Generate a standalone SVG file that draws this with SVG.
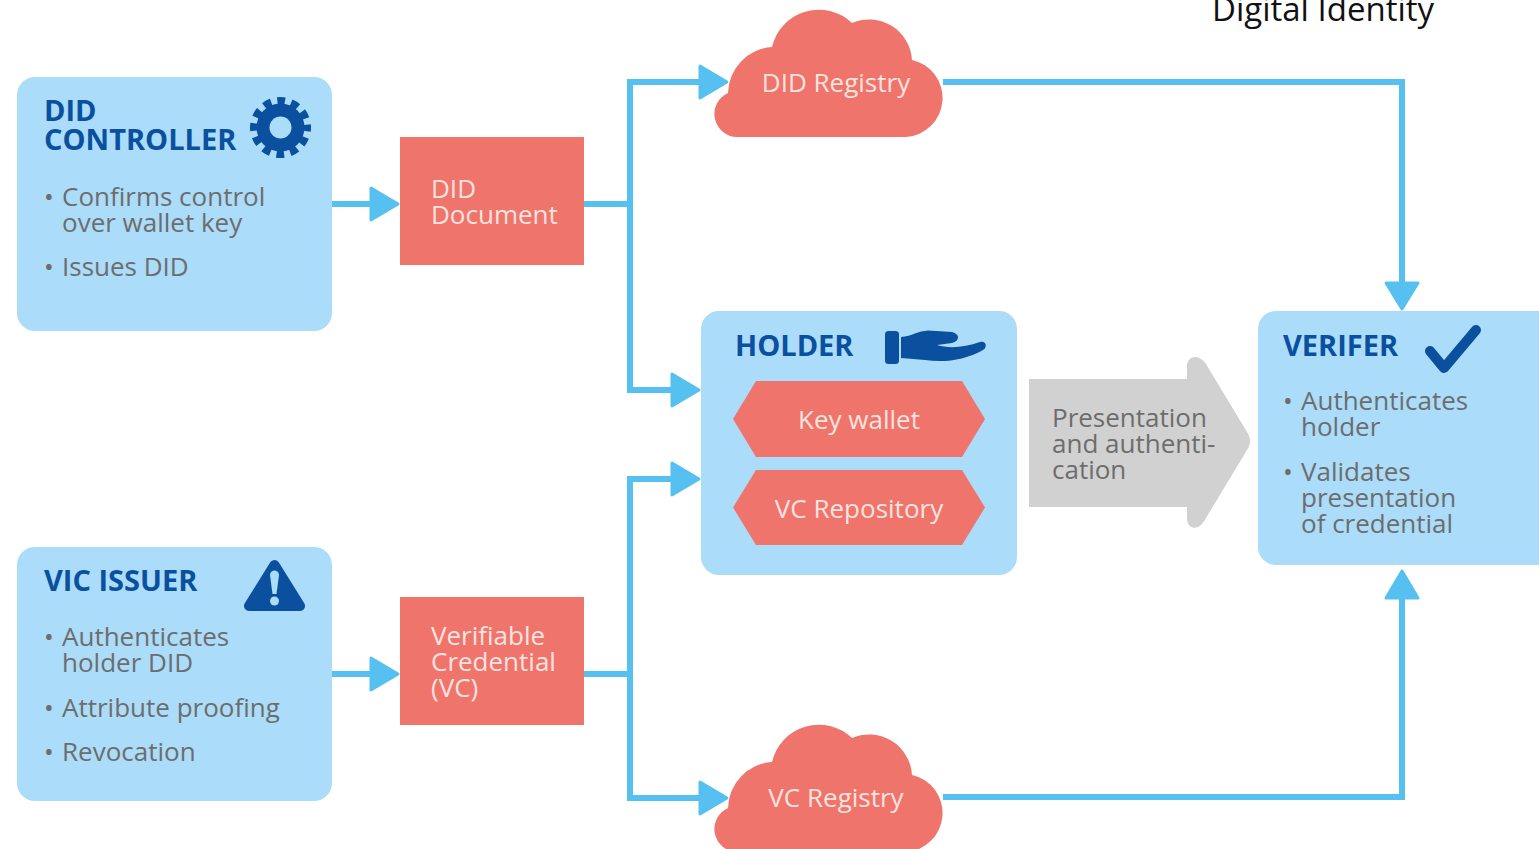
<svg xmlns="http://www.w3.org/2000/svg" width="1539" height="849" viewBox="0 0 1539 849">
<style>
text{font-family:"Open Sans","Noto Sans","Liberation Sans",sans-serif}
.box{fill:#abdcf9}
.red{fill:#ef756c}
.icon{fill:#0a509f}
.h{font-size:29px;font-weight:700;fill:#0a509f}
.b{font-size:26px;fill:#6d6d6d}
.w{font-size:26px;fill:#fde3df}
.m{text-anchor:middle}
.ln{fill:none;stroke:#56c1f0;stroke-width:6}
.ah{fill:#56c1f0;stroke:#56c1f0;stroke-width:3;stroke-linejoin:round}
</style>
<defs>
<path id="cloud" d="M737 137A23 23 0 0 1 728 93A47 47 0 0 1 772 47A48 48 0 0 1 852 23A43 43 0 0 1 912 60A39 39 0 0 1 906 137Z"/>
</defs>
<text id="title" x="1212" y="21" font-size="33" fill="#111" style="font-family:'Open Sans',sans-serif">Digital Identity</text>
<g id="connectors">
<path class="ln" d="M332 204H372"/>
<path class="ln" d="M584 204H630M700 82H630V390H672"/>
<path class="ln" d="M332 674H372"/>
<path class="ln" d="M584 674H630M672 479H630V798H700"/>
<path class="ln" d="M943 82H1402V284"/>
<path class="ln" d="M943 797H1402V598"/>
<polygon class="ah" points="371,188 398,204 371,220"/>
<polygon class="ah" points="371,658 398,674 371,690"/>
<polygon class="ah" points="700,66 727,82 700,98"/>
<polygon class="ah" points="672,374 699,390 672,406"/>
<polygon class="ah" points="672,463 699,479 672,495"/>
<polygon class="ah" points="700,782 727,798 700,814"/>
<polygon class="ah" points="1386,283 1418,283 1402,309"/>
<polygon class="ah" points="1386,598 1418,598 1402,571"/>
</g>
<g id="did-controller">
<rect class="box" x="17" y="77" width="315" height="254" rx="18"/>
<text class="h" x="44" y="121">DID</text>
<text class="h" x="44" y="150">CONTROLLER</text>
<circle class="icon" cx="280.500" cy="127.500" r="24"/>
<circle cx="280.500" cy="127.500" r="26" fill="none" stroke="#0a509f" stroke-width="9" stroke-dasharray="7.600 6" stroke-dashoffset="3.800"/>
<circle class="box" cx="280.500" cy="127.500" r="11"/>
<text class="b" x="44" y="206">•</text><text class="b" x="62" y="206">Confirms control</text>
<text class="b" x="62" y="232">over wallet key</text>
<text class="b" x="44" y="276">•</text><text class="b" x="62" y="276">Issues DID</text>
</g>
<g id="did-document">
<rect class="red" x="400" y="137" width="184" height="128"/>
<text class="w" x="431" y="198">DID</text>
<text class="w" x="431" y="224">Document</text>
</g>
<g id="did-registry">
<use href="#cloud" class="red"/>
<text class="w m" x="836" y="92">DID Registry</text>
</g>
<g id="holder">
<rect class="box" x="701" y="311" width="316" height="264" rx="18"/>
<text class="h" x="735" y="356">HOLDER</text>
<rect class="icon" x="885" y="331" width="14" height="33" rx="3.500"/>
<path class="icon" d="M901 337C912 336 918 331 928 330.500L952 332C960 334 960 341 952 343L937 345C950 349 965 347 980 342C986 340 988 347 983 350C965 360 945 363 925 360L901 358Z"/>
<polygon class="red" points="733,419 756,381 962,381 985,419 962,457 756,457"/>
<text class="w m" x="859" y="429">Key wallet</text>
<polygon class="red" points="733,507.500 756,470 962,470 985,507.500 962,545 756,545"/>
<text class="w m" x="859" y="518">VC Repository</text>
</g>
<g id="presentation">
<path fill="#d1d1d1" d="M1029 379H1187V366C1187 356 1199 353 1206 364L1247 432C1251 438 1251 444 1247 450L1206 518C1199 532 1187 530 1187 518V507H1029Z"/>
<text class="b" x="1052" y="427">Presentation</text>
<text class="b" x="1052" y="453">and authenti-</text>
<text class="b" x="1052" y="479">cation</text>
</g>
<g id="verifier">
<rect class="box" x="1258" y="311" width="300" height="254" rx="18"/>
<text class="h" x="1283" y="356">VERIFER</text>
<polyline points="1430,351 1444,368 1476,330" fill="none" stroke="#0a509f" stroke-width="10" stroke-linecap="round" stroke-linejoin="round"/>
<text class="b" x="1283" y="410">•</text><text class="b" x="1301" y="410">Authenticates</text>
<text class="b" x="1301" y="436">holder</text>
<text class="b" x="1283" y="481">•</text><text class="b" x="1301" y="481">Validates</text>
<text class="b" x="1301" y="507">presentation</text>
<text class="b" x="1301" y="533">of credential</text>
</g>
<g id="vic-issuer">
<rect class="box" x="17" y="547" width="315" height="254" rx="18"/>
<text class="h" x="44" y="591">VIC ISSUER</text>
<polygon class="icon" points="274.500,565 300,606 249,606" stroke="#0a509f" stroke-width="10" stroke-linejoin="round"/>
<path class="box" d="M270 575C270 569 279 569 279 575L276.500 594H272.500Z"/>
<circle class="box" cx="274.500" cy="601" r="4.500"/>
<text class="b" x="44" y="646">•</text><text class="b" x="62" y="646">Authenticates</text>
<text class="b" x="62" y="672">holder DID</text>
<text class="b" x="44" y="717">•</text><text class="b" x="62" y="717">Attribute proofing</text>
<text class="b" x="44" y="761">•</text><text class="b" x="62" y="761">Revocation</text>
</g>
<g id="verifiable-credential">
<rect class="red" x="400" y="597" width="184" height="128"/>
<text class="w" x="431" y="645">Verifiable</text>
<text class="w" x="431" y="671">Credential</text>
<text class="w" x="431" y="697">(VC)</text>
</g>
<g id="vc-registry">
<use href="#cloud" class="red" y="715"/>
<text class="w m" x="836" y="807">VC Registry</text>
</g>
</svg>
